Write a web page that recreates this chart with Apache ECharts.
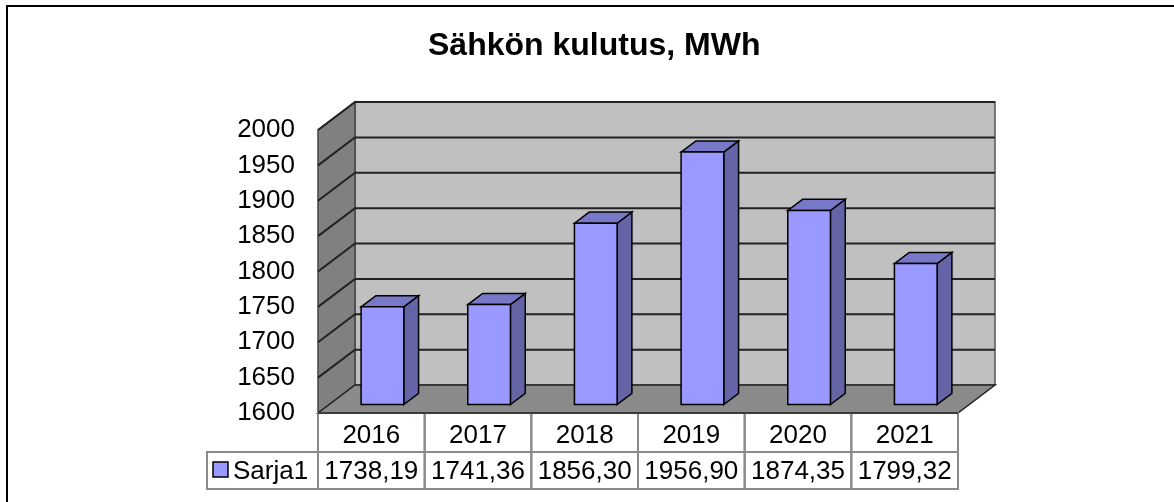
<!DOCTYPE html>
<html>
<head>
<meta charset="utf-8">
<script src="https://cdn.jsdelivr.net/npm/echarts@6/dist/echarts.min.js"></script>
<style>
html,body{margin:0;padding:0;background:#fff}
#main{width:1174px;height:502px}
</style>
</head>
<body>
<div id="main"></div>
<script>
// data
var years = ['2016', '2017', '2018', '2019', '2020', '2021'];
var sarja1 = [1738.19, 1741.36, 1856.30, 1956.90, 1874.35, 1799.32];
var yTicks = [1600, 1650, 1700, 1750, 1800, 1850, 1900, 1950, 2000];
var seriesName = 'Sarja1';
var chartTitle = 'Sähkön kulutus, MWh';

// 3d depth of the plot box
var DX = 37, DY = -28;
var FONT = '"Liberation Sans", Arial, sans-serif';
var FS = 26;

function fmt(v) { return v.toFixed(2).replace('.', ','); }

var myChart = echarts.init(document.getElementById('main'));

// walls, floor, gridlines and the data table under the chart
function renderBox(params, api) {
    var cs = params.coordSys;
    var x0 = cs.x, x1 = cs.x + cs.width, y0 = cs.y, y1 = cs.y + cs.height;
    var band = api.size([1, 0])[0];
    var kids = [];
    kids.push({type: 'rect', shape: {x: x0 + DX, y: y0 + DY, width: cs.width, height: cs.height},
        style: {fill: '#c0c0c0', stroke: '#555', lineWidth: 1.5}});
    kids.push({type: 'polygon', shape: {points: [[x0, y0], [x0 + DX, y0 + DY], [x0 + DX, y1 + DY], [x0, y1]]},
        style: {fill: '#808080', stroke: '#444', lineWidth: 1.5}});
    kids.push({type: 'polygon', shape: {points: [[x0, y1], [x0 + DX, y1 + DY], [x1 + DX, y1 + DY], [x1, y1]]},
        style: {fill: '#8a8a8a', stroke: '#222', lineWidth: 1.5}});
    yTicks.forEach(function (t, k) {
        if (k === 0) return;
        var y = api.coord([0, t])[1];
        kids.push({type: 'polyline', shape: {points: [[x0, y], [x0 + DX, y + DY], [x1 + DX, y + DY]]},
            style: {stroke: '#222', lineWidth: 2, fill: null}});
    });
    // table
    var rowH = 39, valH = 37;
    years.forEach(function (yr, i) {
        var cx = api.coord([i, yTicks[0]])[0];
        kids.push({type: 'rect', shape: {x: cx - band / 2, y: y1, width: band, height: rowH + valH},
            style: {fill: null, stroke: '#8a8a8a', lineWidth: 2}});
        kids.push({type: 'line', shape: {x1: cx - band / 2, y1: y1 + rowH, x2: cx + band / 2, y2: y1 + rowH},
            style: {stroke: '#8a8a8a', lineWidth: 2}});
        kids.push({type: 'text', style: {text: fmt(sarja1[i]), x: cx, y: y1 + rowH + valH / 2 + 1,
            align: 'center', verticalAlign: 'middle', font: FS + 'px ' + FONT, fill: '#000'}});
    });
    // legend cell
    var lw = 111;
    kids.push({type: 'rect', shape: {x: x0 - lw, y: y1 + rowH, width: lw, height: valH},
        style: {fill: null, stroke: '#8a8a8a', lineWidth: 2}});
    kids.push({type: 'rect', shape: {x: x0 - lw + 6, y: y1 + rowH + 10, width: 15, height: 15},
        style: {fill: '#9999ff', stroke: '#000', lineWidth: 1.5}});
    kids.push({type: 'text', style: {text: seriesName, x: x0 - lw + 26, y: y1 + rowH + valH / 2 + 1,
        align: 'left', verticalAlign: 'middle', font: FS + 'px ' + FONT, fill: '#000'}});
    // floor front edge over table top
    kids.push({type: 'line', shape: {x1: x0, y1: y1, x2: x1, y2: y1}, style: {stroke: '#222', lineWidth: 1.5}});
    return {type: 'group', children: kids};
}

function renderBar(params, api) {
    var i = api.value(0), v = api.value(1);
    var top = api.coord([i, v]), base = api.coord([i, yTicks[0]]);
    var band = api.size([1, 0])[0];
    var w = band * 0.40;
    var f = 0.3, d = 0.4;
    var lx = top[0] - w / 2 + DX * f, rx = lx + w;
    var ty = top[1] + DY * f, by = base[1] + DY * f;
    var sx = DX * d, sy = DY * d;
    return {type: 'group', children: [
        {type: 'polygon', shape: {points: [[rx, ty], [rx + sx, ty + sy], [rx + sx, by + sy], [rx, by]]},
            style: {fill: '#6464a6', stroke: '#000', lineWidth: 1.5}},
        {type: 'polygon', shape: {points: [[lx, ty], [lx + sx, ty + sy], [rx + sx, ty + sy], [rx, ty]]},
            style: {fill: '#7878c8', stroke: '#000', lineWidth: 1.5}},
        {type: 'rect', shape: {x: lx, y: ty, width: w, height: by - ty},
            style: {fill: '#9999ff', stroke: '#000', lineWidth: 1.5}}
    ]};
}

var option = {
    animation: false,
    backgroundColor: '#fff',
    title: {
        text: chartTitle,
        left: 428,
        top: 30,
        padding: 0,
        textStyle: {fontFamily: FONT, fontSize: 32, fontWeight: 'bold', color: '#000'}
    },
    graphic: [{
        type: 'rect', silent: true, z: 100,
        shape: {x: 7, y: 6, width: 1200, height: 600},
        style: {fill: null, stroke: '#000', lineWidth: 2}
    }],
    grid: {left: 318, top: 130, width: 640, height: 283},
    xAxis: {
        type: 'category',
        data: years,
        axisLine: {show: false},
        axisTick: {show: false},
        splitLine: {show: false},
        axisLabel: {fontFamily: FONT, fontSize: FS, color: '#000', margin: 10, lineHeight: 26}
    },
    yAxis: {
        type: 'value',
        min: yTicks[0],
        max: yTicks[yTicks.length - 1],
        interval: 50,
        axisLine: {show: false},
        axisTick: {show: false},
        splitLine: {show: false},
        axisLabel: {fontFamily: FONT, fontSize: FS, color: '#000', margin: 23,
            formatter: function (v) { return String(v); }}
    },
    series: [
        {
            type: 'custom', name: 'box', z: 1, clip: false, silent: true,
            renderItem: renderBox,
            data: [[0, yTicks[0]]],
            encode: {x: 0, y: 1}
        },
        {
            type: 'custom', name: seriesName, z: 3, clip: false,
            renderItem: renderBar,
            data: sarja1.map(function (v, i) { return [i, v]; }),
            encode: {x: 0, y: 1}
        }
    ]
};

myChart.setOption(option);
</script>
</body>
</html>
